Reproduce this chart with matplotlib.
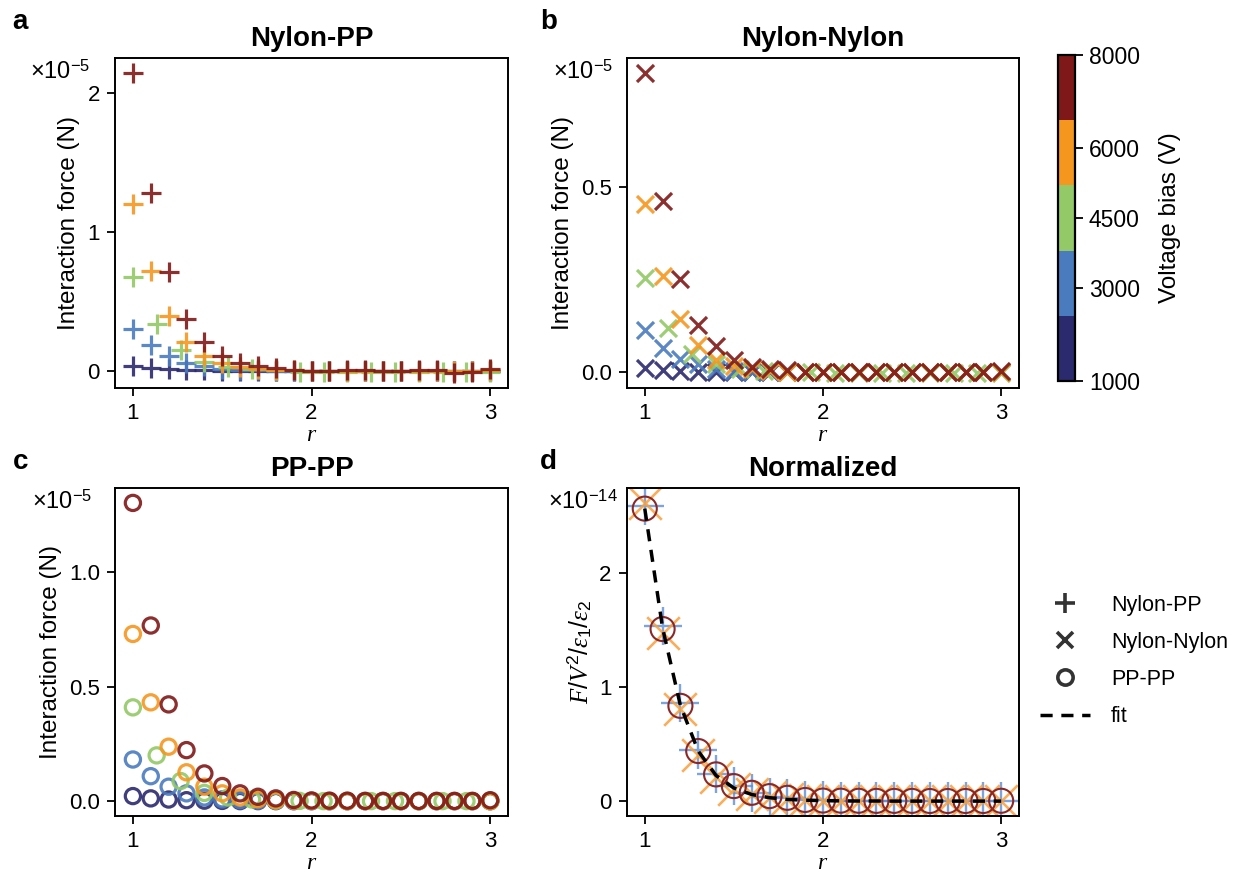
import matplotlib
matplotlib.use('Agg')
import matplotlib.pyplot as plt
from matplotlib.colors import ListedColormap, Normalize
from matplotlib.cm import ScalarMappable
from matplotlib.lines import Line2D

plt.rcParams['font.family'] = ['Liberation Sans', 'DejaVu Sans']
plt.rcParams['mathtext.fontset'] = 'custom'
plt.rcParams['mathtext.rm'] = 'Liberation Sans'
plt.rcParams['mathtext.it'] = 'Liberation Serif:italic'
plt.rcParams['mathtext.bf'] = 'Liberation Sans:bold'

# distances (r) - the 4500 V runs were sampled on a coarser grid
r = [1.0, 1.1, 1.2, 1.3, 1.4, 1.5, 1.6, 1.7, 1.8, 1.9, 2.0,
     2.1, 2.2, 2.3, 2.4, 2.5, 2.6, 2.7, 2.8, 2.9, 3.0]
r_4500 = [1.0, 1.133, 1.267, 1.4, 1.533, 1.667, 1.8, 1.933,
          2.067, 2.2, 2.333, 2.467, 2.6, 2.733, 2.867, 3.0]

voltages = [1000, 3000, 4500, 6000, 8000]
volt_colors = ['#2b2a6e', '#4a7bbf', '#93c966', '#f5961f', '#7f1818']

# forces in units of 1e-5 N
nylon_pp_1000 = [0.036, 0.024, 0.014, 0.008, 0.004, 0.002, 0.001, 0.0, 0.0, 0.0, 0.0,
                 0.0, 0.0, 0.0, 0.0, 0.0, 0.0, 0.0, 0.0, 0.0, 0.0]
nylon_pp_3000 = [0.300, 0.188, 0.108, 0.058, 0.032, 0.016, 0.008, 0.004, 0.002, 0.001, 0.0,
                 0.0, 0.0, 0.0, 0.0, 0.0, 0.0, 0.0, 0.0, 0.0, 0.0]
nylon_pp_4500 = [0.677, 0.337, 0.152, 0.067, 0.030, 0.012, 0.005, -0.005,
                 -0.010, -0.008, -0.010, -0.008, -0.010, -0.008, -0.010, -0.005]
nylon_pp_6000 = [1.205, 0.723, 0.395, 0.205, 0.104, 0.055, 0.028, 0.014, 0.007, 0.003, 0.0,
                 0.0, 0.0, 0.0, 0.0, 0.0, 0.0, 0.0, 0.0, 0.0, 0.005]
nylon_pp_8000 = [2.145, 1.280, 0.710, 0.373, 0.205, 0.108, 0.055, 0.034, 0.022, 0.007, 0.0,
                 0.0, 0.005, 0.005, 0.0, 0.0, 0.005, 0.005, -0.015, -0.005, 0.015]

nylon_nylon_1000 = [0.011, 0.005, 0.003, 0.002, 0.001, 0.0, 0.0, 0.0, 0.0, 0.0, 0.0,
                    0.0, 0.0, 0.0, 0.0, 0.0, 0.0, 0.0, 0.0, 0.0, 0.0]
nylon_nylon_3000 = [0.114, 0.065, 0.036, 0.021, 0.009, 0.004, 0.002, 0.001, 0.0, 0.0, 0.0,
                    0.0, 0.0, 0.0, 0.0, 0.0, 0.0, 0.0, 0.0, 0.0, 0.0]
nylon_nylon_4500 = [0.256, 0.120, 0.050, 0.023, 0.009, 0.004, 0.002, 0.0,
                    -0.002, -0.002, -0.002, -0.002, -0.002, -0.002, -0.002, -0.002]
nylon_nylon_6000 = [0.455, 0.259, 0.143, 0.074, 0.034, 0.018, 0.008, 0.004, 0.002, 0.001, 0.0,
                    0.0, 0.0, 0.0, 0.0, 0.0, 0.0, 0.0, 0.0, 0.0, 0.0]
nylon_nylon_8000 = [0.809, 0.462, 0.252, 0.129, 0.070, 0.034, 0.015, 0.009, 0.005, 0.002, 0.001,
                    0.0, 0.0, 0.0, 0.0, 0.0, 0.0, 0.0, 0.0, 0.0, 0.004]

pp_pp_1000 = [0.022, 0.012, 0.007, 0.004, 0.002, 0.001, 0.0, 0.0, 0.0, 0.0, 0.0,
              0.0, 0.0, 0.0, 0.0, 0.0, 0.0, 0.0, 0.0, 0.0, 0.0]
pp_pp_3000 = [0.182, 0.109, 0.063, 0.034, 0.016, 0.008, 0.004, 0.002, 0.001, 0.0, 0.0,
              0.0, 0.0, 0.0, 0.0, 0.0, 0.0, 0.0, 0.0, 0.0, 0.0]
pp_pp_4500 = [0.410, 0.200, 0.088, 0.036, 0.016, 0.007, 0.003, 0.001,
              0.0, 0.0, 0.0, 0.0, 0.0, 0.0, 0.0, 0.0]
pp_pp_6000 = [0.731, 0.432, 0.238, 0.126, 0.063, 0.034, 0.016, 0.008, 0.004, 0.002, 0.001,
              0.0, 0.0, 0.0, 0.0, 0.0, 0.0, 0.0, 0.0, 0.0, 0.0]
pp_pp_8000 = [1.304, 0.768, 0.423, 0.223, 0.121, 0.066, 0.034, 0.019, 0.012, 0.005, 0.003,
              0.002, 0.002, 0.001, 0.001, 0.001, 0.001, 0.001, 0.001, 0.001, 0.004]

# normalized force F/V^2/eps1/eps2 in units of 1e-14
norm_nylon_pp = [2.59, 1.54, 0.866, 0.45, 0.24, 0.13, 0.07, 0.04, 0.025, 0.012, 0.006,
                 0.004, 0.003, 0.002, 0.002, 0.001, 0.001, 0.001, 0.001, 0.001, 0.002]
norm_nylon_nylon = [2.62, 1.48, 0.81, 0.405, 0.214, 0.11, 0.06, 0.035, 0.02, 0.01, 0.005,
                    0.003, 0.002, 0.001, 0.001, 0.001, 0.001, 0.0, 0.0, 0.0, 0.001]
norm_pp_pp = [2.57, 1.512, 0.837, 0.44, 0.235, 0.132, 0.073, 0.044, 0.029, 0.01, 0.005,
              0.004, 0.003, 0.002, 0.002, 0.002, 0.001, 0.001, 0.001, 0.001, 0.003]
norm_fit = [2.57, 1.52, 0.84, 0.44, 0.225, 0.115, 0.058, 0.03, 0.015, 0.008, 0.004,
            0.002, 0.001, 0.001, 0.0, 0.0, 0.0, 0.0, 0.0, 0.0, 0.0]


def scatter_panel(ax, series, marker, size, filled=True):
    for v, col, ys in zip(voltages, volt_colors, series):
        xs = r_4500 if v == 4500 else r
        if filled:
            ax.scatter(xs, ys, marker=marker, s=size, color=col, linewidths=2.3, alpha=0.9)
        else:
            ax.scatter(xs, ys, marker=marker, s=size, facecolors='none', edgecolors=col,
                       linewidths=2.3, alpha=0.9)


def style_axis(ax, title, yticks, offset, off_x):
    ax.set_title(title, fontsize=20, fontweight='bold', pad=9)
    ax.set_xticks([1, 2, 3])
    ax.set_yticks(yticks)
    ax.set_xlabel('$r$', fontsize=17, labelpad=0)
    ax.tick_params(labelsize=16, width=1.3, length=6, pad=5)
    for s in ax.spines.values():
        s.set_linewidth(1.4)
    ax.text(off_x, 0.958, offset, transform=ax.transAxes, ha='right', va='center', fontsize=17)


fig = plt.figure(figsize=(12.41, 8.82), dpi=100)
ax_a = fig.add_axes([0.0927, 0.5601, 0.3167, 0.3741])
ax_b = fig.add_axes([0.5052, 0.5601, 0.3159, 0.3741])
ax_c = fig.add_axes([0.0927, 0.0748, 0.3167, 0.3719])
ax_d = fig.add_axes([0.5052, 0.0748, 0.3159, 0.3719])
cax = fig.add_axes([0.8525, 0.568, 0.0137, 0.3696])

scatter_panel(ax_a, [nylon_pp_1000, nylon_pp_3000, nylon_pp_4500, nylon_pp_6000, nylon_pp_8000], '+', 200)
scatter_panel(ax_b, [nylon_nylon_1000, nylon_nylon_3000, nylon_nylon_4500, nylon_nylon_6000, nylon_nylon_8000], 'x', 150)
scatter_panel(ax_c, [pp_pp_1000, pp_pp_3000, pp_pp_4500, pp_pp_6000, pp_pp_8000], 'o', 120, filled=False)

ax_d.scatter(r, norm_nylon_pp, marker='+', s=750, color='#5b8fd6', linewidths=1.7, alpha=0.8)
ax_d.scatter(r, norm_nylon_nylon, marker='x', s=550, color='#f7a040', linewidths=1.9, alpha=0.85)
ax_d.scatter(r, norm_pp_pp, marker='o', s=300, facecolors='none', edgecolors='#8a2828', linewidths=1.5)
ax_d.plot(r, norm_fit, color='black', ls='--', lw=2.5, dashes=(3.5, 2.5))

style_axis(ax_a, 'Nylon-PP', [0, 1, 2], '×10$^{-5}$', -0.064)
style_axis(ax_b, 'Nylon-Nylon', [0, 0.5], '×10$^{-5}$', -0.036)
style_axis(ax_c, 'PP-PP', [0, 0.5, 1.0], '×10$^{-5}$', -0.059)
style_axis(ax_d, 'Normalized', [0, 1, 2], '×10$^{-14}$', -0.023)

for ax in [ax_a, ax_b, ax_c]:
    ax.set_ylabel('Interaction force (N)', fontsize=17.5, labelpad=5)
ax_d.set_ylabel(r'$F/V^2/\varepsilon_1/\varepsilon_2$', fontsize=18, labelpad=4)

# discrete colorbar for the voltage bias
cmap = ListedColormap(volt_colors)
sm = ScalarMappable(norm=Normalize(min(voltages), max(voltages)), cmap=cmap)
cb = fig.colorbar(sm, cax=cax, ticks=voltages)
cb.set_label('Voltage bias (V)', fontsize=17.5, labelpad=14)
cb.ax.tick_params(labelsize=16.5, width=1.3, length=6, pad=4)
cb.outline.set_linewidth(1.6)

handles = [Line2D([], [], marker='+', ls='none', color='#333333', markersize=14, mew=2.6),
           Line2D([], [], marker='x', ls='none', color='#333333', markersize=11, mew=2.6),
           Line2D([], [], marker='o', ls='none', color='#333333', markersize=11, mew=2.6,
                  markerfacecolor='none'),
           Line2D([], [], color='black', ls='--', lw=2.5, dashes=(3.5, 2.5))]
ax_d.legend(handles, ['Nylon-PP', 'Nylon-Nylon', 'PP-PP', 'fit'], loc='upper left',
            bbox_to_anchor=(1.054, 0.675), frameon=False, fontsize=15.5, borderaxespad=0,
            borderpad=0, handlelength=2.3, handletextpad=1.0, labelspacing=0.75)

for lbl, x, y in [('a', 0.01, 0.975), ('b', 0.435, 0.975), ('c', 0.01, 0.476), ('d', 0.435, 0.476)]:
    fig.text(x, y, lbl, fontsize=20, fontweight='bold', va='center')

fig.savefig('out.png', dpi=100)
